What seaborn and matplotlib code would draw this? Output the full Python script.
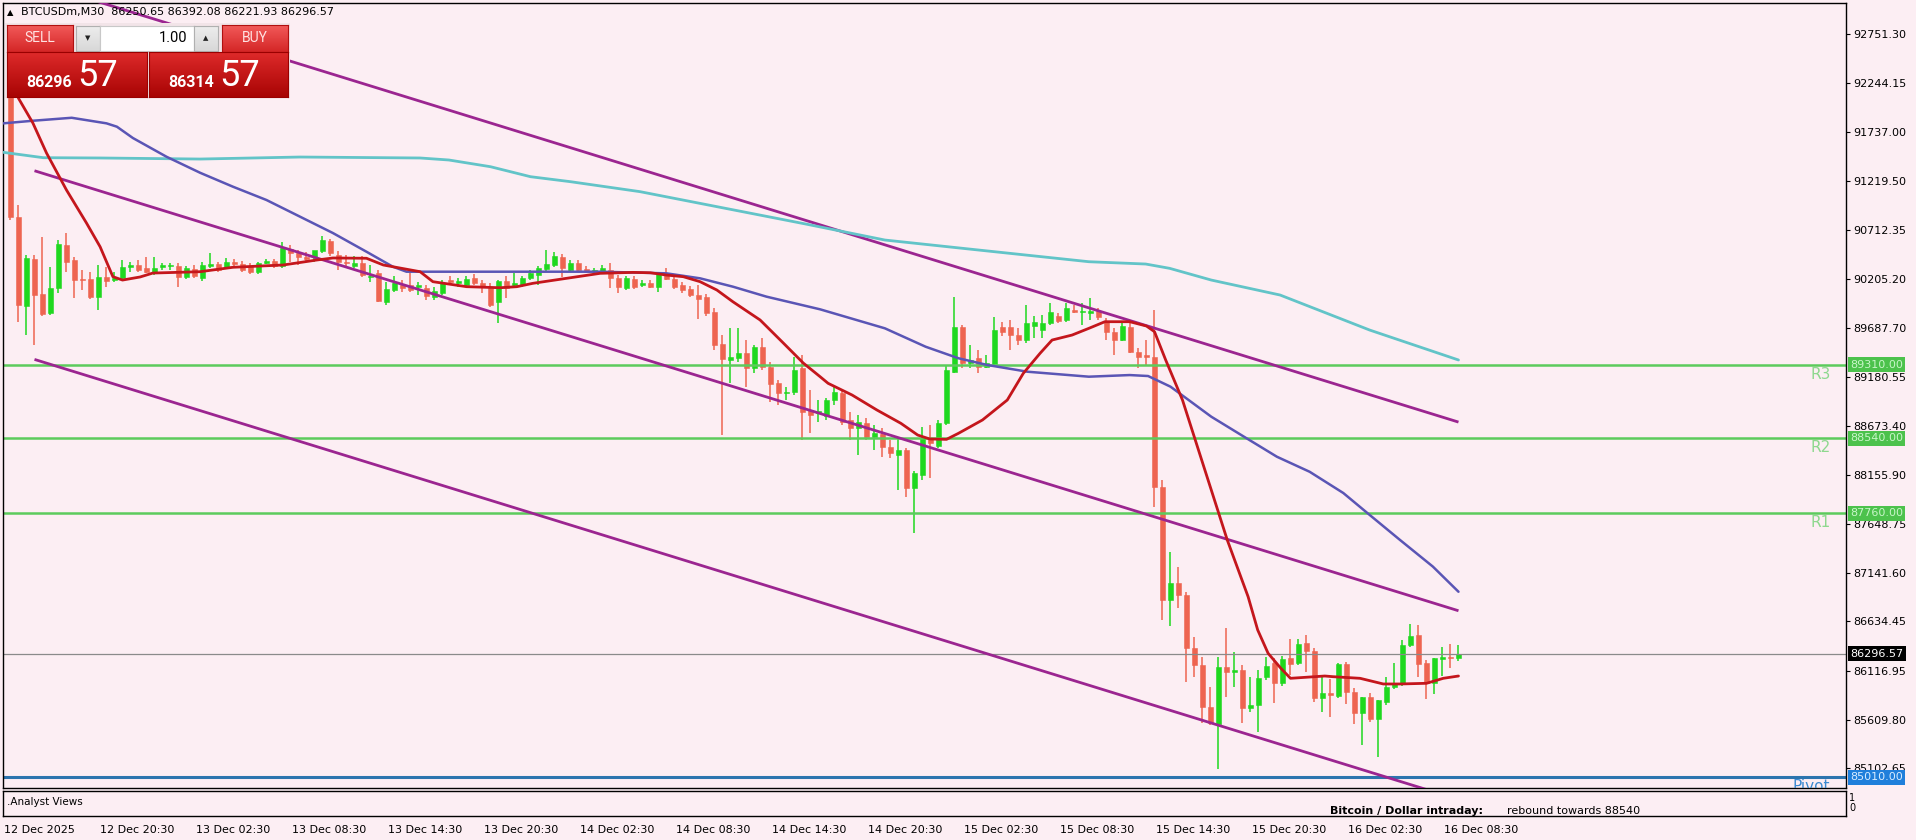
import numpy as np
import matplotlib
matplotlib.use("Agg")
import matplotlib.pyplot as plt
import matplotlib.transforms as mtransforms
from matplotlib.colors import LinearSegmentedColormap
import seaborn as sns

# ---------------- data ----------------
header_symbol = "BTCUSDm,M30"
header_ohlc = "86250.65 86392.08 86221.93 86296.57"

opens = [92484, 90851, 89921, 90410, 90046, 89848, 90108, 90556, 90400, 90202,
         90202, 90014, 90223, 90191, 90212, 90327, 90348, 90317, 90275, 90327,
         90337, 90337, 90223, 90306, 90212, 90337, 90358, 90327, 90379, 90358,
         90337, 90275, 90369, 90389, 90337, 90514, 90473, 90431, 90431, 90494,
         90598, 90452, 90379, 90337, 90369, 90223, 90264, 89962, 90087, 90139,
         90139, 90118, 90108, 90014, 90056, 90191, 90160, 90139, 90212, 90160,
         90108, 89962, 90181, 90139, 90139, 90212, 90244, 90306, 90348, 90431,
         90296, 90369, 90306, 90285, 90285, 90296, 90212, 90108, 90202, 90139,
         90160, 90118, 90264, 90202, 90139, 90098, 90035, 90014, 89858, 89524,
         89358, 89379, 89431, 89274, 89493, 89285, 89118, 89014, 89024, 89274,
         88837, 88806, 88774, 88941, 89014, 88733, 88649, 88702, 88556, 88587,
         88451, 88368, 88420, 88024, 88160, 88535, 88462, 88702, 89233, 89702,
         89327, 89379, 89285, 89316, 89702, 89702, 89618, 89566, 89712, 89670,
         89743, 89816, 89775, 89879, 89858, 89848, 89868, 89764, 89650, 89566,
         89702, 89441, 89410, 89389, 88034, 86857, 87034, 86909, 86357, 86180,
         85742, 85565, 86159, 86107, 86128, 85732, 85763, 86055, 86201, 85992,
         86253, 86201, 86409, 86326, 85836, 85888, 85857, 86190, 85898, 85680,
         85846, 85617, 85794, 85951, 85982, 86388, 86492, 86201, 85992, 86242,
         86263, 86250.65]
highs = [92588, 90973, 90452, 90452, 90639, 90327, 90608, 90681, 90431, 90296,
         90275, 90348, 90327, 90275, 90400, 90379, 90400, 90431, 90431, 90369,
         90369, 90369, 90337, 90348, 90379, 90473, 90379, 90421, 90410, 90389,
         90369, 90379, 90410, 90410, 90587, 90556, 90504, 90483, 90473, 90650,
         90619, 90494, 90452, 90441, 90441, 90348, 90296, 90171, 90233, 90191,
         90264, 90171, 90139, 90118, 90191, 90233, 90212, 90233, 90254, 90191,
         90160, 90191, 90233, 90264, 90233, 90296, 90337, 90504, 90483, 90462,
         90400, 90400, 90337, 90317, 90348, 90369, 90244, 90233, 90233, 90191,
         90191, 90275, 90317, 90233, 90171, 90129, 90139, 90046, 89900, 89618,
         89691, 89691, 89566, 89514, 89587, 89337, 89150, 89076, 89389, 89410,
         89045, 88941, 88960, 89087, 89045, 88816, 88785, 88753, 88681, 88649,
         88524, 88555, 88441, 88201, 88660, 88681, 88733, 89306, 90014, 89722,
         89514, 89462, 89410, 89806, 89754, 89775, 89691, 89931, 89816, 89827,
         89952, 89848, 89952, 89931, 89952, 90004, 89900, 89796, 89691, 89754,
         89743, 89483, 89566, 89879, 88107, 87357, 87201, 86940, 86471, 86263,
         85950, 86263, 86565, 86315, 86180, 86055, 86128, 86263, 86253, 86273,
         86450, 86450, 86492, 86357, 86055, 86034, 86201, 86211, 85940, 85846,
         85888, 85815, 86055, 86201, 86440, 86607, 86597, 86232, 86253, 86367,
         86398, 86392.08]
lows = [90817, 89757, 89618, 89514, 89816, 89827, 90056, 90275, 90004, 90087,
        89993, 89879, 90118, 90171, 90191, 90275, 90275, 90264, 90244, 90296,
        90296, 90118, 90202, 90212, 90181, 90317, 90275, 90306, 90337, 90275,
        90254, 90254, 90358, 90317, 90317, 90379, 90348, 90379, 90379, 90473,
        90441, 90296, 90317, 90317, 90223, 90171, 89962, 89931, 90066, 90066,
        90066, 90035, 89983, 89983, 90035, 90139, 90118, 90118, 90139, 90056,
        89910, 89743, 90004, 90118, 90118, 90191, 90139, 90285, 90327, 90223,
        90275, 90275, 90264, 90254, 90264, 90108, 90056, 90087, 90098, 90118,
        90108, 90066, 90191, 90098, 90056, 90014, 89785, 89816, 89462, 88576,
        89118, 89337, 89076, 89222, 89254, 88920, 88889, 88941, 88993, 88524,
        88597, 88712, 88733, 88889, 88681, 88524, 88368, 88524, 88420, 88347,
        88337, 88002, 87930, 87555, 88107, 88128, 88441, 88681, 89222, 89274,
        89274, 89222, 89274, 89295, 89608, 89462, 89514, 89535, 89587, 89587,
        89723, 89743, 89754, 89848, 89723, 89775, 89775, 89566, 89410, 89556,
        89431, 89274, 89306, 87826, 86649, 86586, 86774, 86003, 86055, 85575,
        85555, 85096, 85846, 85950, 85575, 85690, 85482, 86023, 85784, 85961,
        86076, 86180, 86107, 85794, 85690, 85638, 85836, 85773, 85565, 85346,
        85586, 85221, 85763, 85930, 85961, 86367, 86055, 85825, 85877, 86065,
        86148, 86221.93]
closes = [90851, 89931, 90418, 90035, 89837, 90108, 90566, 90379, 90191, 90191,
          90014, 90223, 90181, 90212, 90327, 90348, 90296, 90275, 90317, 90348,
          90337, 90223, 90317, 90233, 90348, 90358, 90296, 90379, 90358, 90296,
          90275, 90369, 90389, 90337, 90525, 90473, 90431, 90410, 90504, 90608,
          90473, 90379, 90369, 90369, 90244, 90233, 89973, 90098, 90160, 90108,
          90087, 90139, 90025, 90077, 90160, 90171, 90181, 90202, 90160, 90118,
          89931, 90181, 90108, 90160, 90212, 90264, 90317, 90358, 90441, 90317,
          90369, 90296, 90275, 90285, 90317, 90212, 90118, 90212, 90118, 90160,
          90118, 90254, 90202, 90118, 90087, 90035, 89993, 89848, 89514, 89368,
          89389, 89431, 89274, 89493, 89285, 89108, 89014, 89024, 89254, 88816,
          88785, 88827, 88941, 89024, 88712, 88649, 88712, 88556, 88597, 88451,
          88389, 88420, 88024, 88180, 88545, 88493, 88701, 89254, 89702, 89327,
          89358, 89285, 89327, 89670, 89650, 89618, 89566, 89743, 89754, 89743,
          89858, 89764, 89900, 89858, 89868, 89868, 89806, 89650, 89566, 89712,
          89441, 89389, 89389, 88034, 86857, 87034, 86909, 86357, 86180, 85742,
          85575, 86159, 86107, 86128, 85732, 85763, 86044, 86169, 85992, 86242,
          86190, 86399, 86326, 85836, 85888, 85867, 86190, 85898, 85680, 85846,
          85617, 85815, 85951, 85992, 86388, 86482, 86190, 85992, 86253, 86263,
          86253, 86296.57]

red_ma_bars = [0.0, 1.0, 2.8, 4.5, 7.0, 9.5, 11.2, 12.8, 14.0, 16.2, 17.8, 23.7, 27.8,
               34.1, 38.3, 40.3, 44.5, 46.6, 51.2, 52.8, 57.0, 61.2, 63.3, 65.3, 69.5,
               73.7, 77.8, 80.0, 82.0, 84.1, 86.2, 88.3, 90.3, 93.7, 96.6, 99.1, 101.2,
               102.2, 105.2, 108.3, 111.3, 113.4, 114.9, 117.0, 118.5, 121.5, 124.6,
               126.6, 128.7, 130.2, 132.7, 134.8, 136.8, 139.9, 142.0, 143.0, 144.4,
               146.5, 148.1, 150.1, 152.1, 154.7, 155.9, 157.2, 158.8, 160.0, 164.3,
               165.3, 168.7, 171.6, 173.7, 177.0, 179.1, 181.0]
red_ma_vals = [92300, 92085, 91827, 91515, 91129, 90785, 90538, 90226, 90191, 90223,
               90264, 90278, 90324, 90348, 90400, 90421, 90418, 90348, 90278, 90174,
               90122, 90111, 90122, 90157, 90209, 90261, 90271, 90267, 90243, 90226,
               90174, 90087, 89965, 89775, 89535, 89326, 89184, 89115, 88993, 88837,
               88698, 88576, 88535, 88531, 88594, 88733, 88941, 89219, 89428, 89566,
               89618, 89688, 89757, 89757, 89712, 89653, 89358, 88941, 88524, 88003,
               87482, 86892, 86545, 86302, 86145, 86041, 86065, 86058, 86041, 85982,
               85982, 85989, 86041, 86065]

blue_ma_bars = [-0.9, 2.8, 7.65, 12.0, 13.3, 15.3, 19.5, 23.7, 27.8, 32.0, 36.2, 40.3,
                44.5, 47.8, 49.5, 51.2, 62.0, 73.7, 82.0, 86.2, 90.3, 94.5, 101.2,
                109.3, 114.4, 118.5, 122.1, 127.1, 134.8, 139.9, 142.2, 145.0, 150.1,
                154.2, 158.3, 162.4, 166.6, 169.6, 173.7, 177.8, 181.0]
blue_ma_vals = [91824, 91851, 91882, 91824, 91789, 91671, 91476, 91309, 91164, 91025,
                90851, 90681, 90486, 90330, 90278, 90278, 90278, 90278, 90261, 90209,
                90122, 90018, 89886, 89688, 89496, 89376, 89306, 89236, 89184, 89201,
                89191, 89080, 88767, 88558, 88350, 88193, 87972, 87764, 87482, 87205,
                86943]

cyan_ma_bars = [-0.9, 4.1, 11.2, 23.7, 36.2, 51.2, 54.8, 60.0, 65.0, 70.0, 78.7, 99.4,
                109.3, 121.0, 134.8, 141.9, 144.9, 150.1, 158.7, 169.9, 181.0]
cyan_ma_vals = [91522, 91466, 91463, 91452, 91473, 91463, 91442, 91372, 91268, 91216,
                91112, 90775, 90608, 90504, 90382, 90358, 90313, 90191, 90035, 89670,
                89358]

channel_bars = [3, 181]
channel_upper = [93296, 88711]
channel_middle = [91330, 86745]
channel_lower = [89364, 84779]

resist_levels = [89310.00, 88540.00, 87760.00]
resist_names = ["R3", "R2", "R1"]
pivot_level = 85010.00
pivot_name = "Pivot"
last_price = 86296.57

price_ticks = [92751.30, 92244.15, 91737.00, 91219.50, 90712.35, 90205.20, 89687.70,
               89180.55, 88673.40, 88155.90, 87648.75, 87141.60, 86634.45, 86116.95,
               85609.80, 85102.65]

first_time_label = "12 Dec 2025"
time_tick_bars = [11, 23, 35, 47, 59, 71, 83, 95, 107, 119, 131, 143, 155, 167, 179]
time_tick_labels = ["12 Dec 20:30", "13 Dec 02:30", "13 Dec 08:30", "13 Dec 14:30",
                    "13 Dec 20:30", "14 Dec 02:30", "14 Dec 08:30", "14 Dec 14:30",
                    "14 Dec 20:30", "15 Dec 02:30", "15 Dec 08:30", "15 Dec 14:30",
                    "15 Dec 20:30", "16 Dec 02:30", "16 Dec 08:30"]

bid_main, bid_pips = "86296", "57"
ask_main, ask_pips = "86314", "57"
lot_text = "1.00"

sub_title = ".Analyst Views"
sub_head = "Bitcoin / Dollar intraday:"
sub_view = "rebound towards 88540"

# ---------------- style ----------------
sns.set_theme(style="white")
plt.rcParams["font.family"] = ["DejaVu Sans"]

BG = "#FCEEF3"
GREEN = "#1FD81F"
RED = "#EE6450"

W, H = 1916, 840
fig = plt.figure(figsize=(W / 100, H / 100), dpi=100, facecolor=BG)


def fx(px):
    return px / W


def fy(py):
    return 1 - py / H


ax = fig.add_axes([fx(3), fy(788), fx(1846) - fx(3), fy(3) - fy(788)], facecolor=BG)
ax2 = fig.add_axes([fx(3), fy(816), fx(1846) - fx(3), fy(790.5) - fy(816)], facecolor=BG)

XL = (-0.9375, 229.44)
YL = (84898, 93078)
ax.set_xlim(*XL)
ax.set_ylim(*YL)
ax2.set_xlim(*XL)
ax2.set_ylim(0, 1)

# ---------------- candles ----------------
o = np.array(opens, float)
h = np.array(highs, float)
l = np.array(lows, float)
c = np.array(closes, float)
x = np.arange(len(o))
up = c >= o
cols = np.where(up, GREEN, RED)
ax.vlines(x, l, h, colors=cols, lw=1.1, zorder=2)
body_bottom = np.minimum(o, c)
body_h = np.maximum(np.abs(c - o), 9)
ax.bar(x, body_h, bottom=body_bottom, width=0.64, color=cols, edgecolor=cols,
       lw=0.4, zorder=2.1)

# ---------------- levels ----------------
for lv in resist_levels:
    ax.axhline(lv, color="#5CCB5C", lw=1.8, zorder=2.5)
ax.axhline(pivot_level, color="#2C74AE", lw=2.2, zorder=2.5)
ax.axhline(last_price, color="#8A8A8A", lw=0.9, zorder=2.4)

# ---------------- channel ----------------
for ch in (channel_upper, channel_middle, channel_lower):
    ax.plot(channel_bars, ch, color="#9B2590", lw=2.0, zorder=3, solid_capstyle="butt")

# ---------------- moving averages ----------------
sns.lineplot(x=cyan_ma_bars, y=cyan_ma_vals, ax=ax, color="#62C4C8", linewidth=2.0,
             sort=False, estimator=None, zorder=3)
sns.lineplot(x=blue_ma_bars, y=blue_ma_vals, ax=ax, color="#5A55B5", linewidth=1.8,
             sort=False, estimator=None, zorder=3)
sns.lineplot(x=red_ma_bars, y=red_ma_vals, ax=ax, color="#C4161C", linewidth=2.0,
             sort=False, estimator=None, zorder=3.2)

# ---------------- axes styling ----------------
for a in (ax, ax2):
    for s in a.spines.values():
        s.set_color("black")
        s.set_linewidth(1.0)
ax.set_xticks([])
ax.yaxis.tick_right()
ax.set_yticks(price_ticks)
ax.set_yticklabels([f"{v:.2f}" for v in price_ticks])
ax.tick_params(axis="y", direction="out", length=3, width=0.8, pad=2,
               labelsize=8, colors="black")
ax.set_xlabel("")
ax.set_ylabel("")

ax2.set_yticks([])
ax2.set_xticks([XL[0]] + time_tick_bars)
ax2.set_xticklabels([first_time_label] + time_tick_labels, ha="left")
ax2.tick_params(axis="x", direction="out", length=5, width=0.8, pad=1.5,
                labelsize=8, colors="black")
shift = mtransforms.ScaledTranslation(1.5 / 100, 0, fig.dpi_scale_trans)
for lab in ax2.get_xticklabels():
    lab.set_transform(lab.get_transform() + shift)

# ---------------- price labels on right ----------------
btr = mtransforms.blended_transform_factory(ax.transAxes, ax.transData)
xr = 1 + 4 / 1843
for lv in resist_levels:
    ax.text(xr, lv, f"{lv:.2f}", transform=btr, ha="left", va="center", fontsize=8,
            color="#C8F5C8", zorder=10, clip_on=False,
            bbox=dict(boxstyle="square,pad=0.22", fc="#4CC24C", ec="none"))
ax.text(xr, pivot_level, f"{pivot_level:.2f}", transform=btr, ha="left", va="center",
        fontsize=8, color="#D8ECFF", zorder=10, clip_on=False,
        bbox=dict(boxstyle="square,pad=0.22", fc="#1F7FDB", ec="none"))
ax.text(xr, last_price, f"{last_price:.2f}", transform=btr, ha="left", va="center",
        fontsize=8, color="white", zorder=11, clip_on=False,
        bbox=dict(boxstyle="square,pad=0.22", fc="black", ec="none"))

down = mtransforms.ScaledTranslation(0, -2 / 100, fig.dpi_scale_trans)
xl_lab = (1810 - 3) / 1843
for lv, nm in zip(resist_levels, resist_names):
    ax.text(xl_lab, lv, nm, transform=btr + down, ha="left", va="top", fontsize=11,
            color="#8ED88E", zorder=9)
ax.text((1792 - 3) / 1843, pivot_level, pivot_name, transform=btr + down, ha="left",
        va="top", fontsize=11, color="#3C8AD0", zorder=9, clip_on=True)

# ---------------- sub-window texts ----------------
fig.text(fx(7), fy(802), sub_title, fontsize=7.5, va="center", ha="left", color="black")
fig.text(fx(1330), fy(814), sub_head, fontsize=8, fontweight="bold", va="baseline",
         ha="left", color="black")
fig.text(fx(1507), fy(814), sub_view, fontsize=8, va="baseline", ha="left", color="black")
fig.text(fx(1849), fy(798), "1", fontsize=7, va="center", ha="left", color="black")
fig.text(fx(1849), fy(808), "0", fontsize=7, va="center", ha="left", color="black")

# ---------------- header ----------------
fig.text(fx(7), fy(12.5), "\u25B2", fontsize=6, va="center", ha="left", color="black")
fig.text(fx(21), fy(12.5), header_symbol + "  " + header_ohlc, fontsize=8, va="center",
         ha="left", color="black")


# ---------------- trade panel ----------------
def box(x0, y0, x1, y1, ctop, cbot, edge):
    a = fig.add_axes([fx(x0), fy(y1), fx(x1) - fx(x0), fy(y0) - fy(y1)])
    cmap = LinearSegmentedColormap.from_list("g", [ctop, cbot])
    a.imshow(np.linspace(0, 1, 64)[:, None], aspect="auto", cmap=cmap,
             extent=[0, 1, 0, 1], origin="upper")
    a.set_xticks([])
    a.set_yticks([])
    for s in a.spines.values():
        s.set_color(edge)
        s.set_linewidth(0.8)
    return a


panel_bg = fig.add_axes([fx(5), fy(98), fx(290) - fx(5), fy(23) - fy(98)])
panel_bg.set_facecolor("#F2E4E8")
panel_bg.set_xticks([])
panel_bg.set_yticks([])
for s in panel_bg.spines.values():
    s.set_visible(False)

b = box(7, 25, 73, 52, "#F25A5A", "#D42626", "#B01010")
b.text(0.5, 0.5, "SELL", transform=b.transAxes, ha="center", va="center",
       fontsize=10, color="#FFE2E2", family="Roboto")
b = box(222, 25, 288, 52, "#F25A5A", "#D42626", "#B01010")
b.text(0.5, 0.5, "BUY", transform=b.transAxes, ha="center", va="center",
       fontsize=10, color="#FFE2E2", family="Roboto")
b = box(76, 26, 100, 51, "#EDEDED", "#D8D8D8", "#B0B0B0")
b.text(0.5, 0.5, "\u25BC", transform=b.transAxes, ha="center", va="center",
       fontsize=5, color="#222222")
b = box(100, 26, 194, 51, "#FFFFFF", "#FFFFFF", "#C8C8C8")
b.text(0.93, 0.5, lot_text, transform=b.transAxes, ha="right", va="center",
       fontsize=10.5, color="black", family="Roboto")
b = box(194, 26, 218, 51, "#EDEDED", "#D8D8D8", "#B0B0B0")
b.text(0.5, 0.5, "\u25B2", transform=b.transAxes, ha="center", va="center",
       fontsize=5, color="#222222")

b = box(7, 52, 147, 97, "#DE2A2A", "#A80404", "#9A0000")
b.text(0.14, 0.32, bid_main, transform=b.transAxes, ha="left", va="center",
       fontsize=11.5, fontweight="bold", color="white", family="Roboto")
b.text(0.505, 0.47, bid_pips, transform=b.transAxes, ha="left", va="center",
       fontsize=26, color="white", family="Roboto")
b = box(149, 52, 288, 97, "#DE2A2A", "#A80404", "#9A0000")
b.text(0.14, 0.32, ask_main, transform=b.transAxes, ha="left", va="center",
       fontsize=11.5, fontweight="bold", color="white", family="Roboto")
b.text(0.505, 0.47, ask_pips, transform=b.transAxes, ha="left", va="center",
       fontsize=26, color="white", family="Roboto")

fig.savefig("out.png", dpi=100, facecolor=BG)
